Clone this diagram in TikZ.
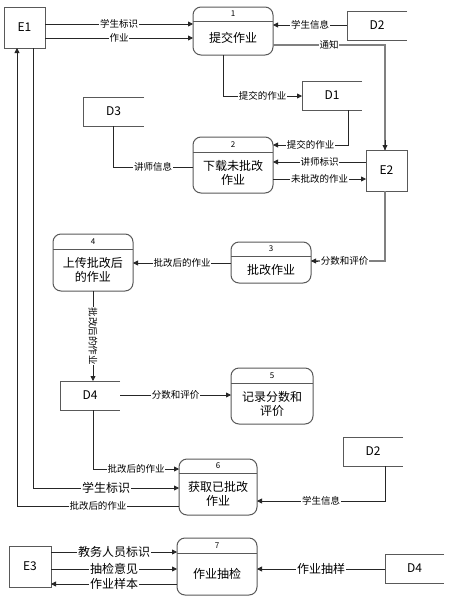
\documentclass[tikz,border=0pt]{standalone}
\usepackage{fontspec}
\setmainfont{Noto Sans CJK SC}
\usetikzlibrary{arrows.meta}
\tikzset{
  boxline/.style={draw=black!65, line width=1pt},
  entbox/.style={boxline, inner sep=0pt, outer sep=0pt, font=\fontsize{12}{14}\selectfont},
  procbox/.style={boxline, rounded corners=8pt, inner sep=0pt, outer sep=0pt},
  procline/.style={draw=black!65, line width=0.8pt},
  numtxt/.style={font=\fontsize{8}{9}\selectfont, inner sep=0pt},
  proctxt/.style={font=\fontsize{12}{14}\selectfont, align=center, inner sep=0pt},
  storebox/.style={inner sep=0pt, outer sep=0pt, font=\fontsize{12}{14}\selectfont},
  conn/.style={draw=black!85, line width=0.8pt},
  arr/.style={conn, -{Triangle[length=5pt,width=5pt]}},
  grayconn/.style={draw=black!50, line width=1.3pt},
  lab/.style={fill=white, inner sep=0.8pt, font=\fontsize{9.5}{10}\selectfont},
  biglab/.style={fill=white, inner sep=0.8pt, font=\fontsize{12}{13}\selectfont},
}
\newcommand\mkproc[8]{%
  \node[procbox, anchor=north west, minimum width={#4-#2}, minimum height={#5-#3}] (#1) at (#2,#3) {};
  \draw[procline] (#1.west |- 0,#6) -- (#1.east |- 0,#6);
  \node[numtxt] (#1n) at ({(#2+#4)/2},{(#3+#6)/2}) {#7};
  \node[proctxt] (#1t) at ({(#2+#4)/2},{(#6+#5)/2}) {#8};
}
\newcommand\mkstore[6]{%
  \node[storebox, anchor=north west, minimum width={#4-#2}, minimum height={#5-#3}] (#1) at (#2,#3) {#6};
  \draw[boxline] (#1.north east) -- (#1.north west) -- (#1.south west) -- (#1.south east);
}
\newcommand\mkent[6]{%
  \node[entbox, anchor=north west, minimum width={#4-#2}, minimum height={#5-#3}] (#1) at (#2,#3) {#6};
}
\begin{document}
\begin{tikzpicture}[x=1pt,y=-1pt]
\useasboundingbox[fill=white] (0,0) rectangle (448,598);
% entities
\mkent{E1}{4}{7}{45}{48}{E1}
\mkent{E2}{366}{150}{407}{191}{E2}
\mkent{E3}{9}{546}{51}{587}{E3}
% stores
\mkstore{D2}{347}{11}{407}{40}{D2}
\mkstore{D1}{302}{81}{362}{110}{D1}
\mkstore{D3}{83}{97}{144}{126}{D3}
\mkstore{D4}{60}{381}{120}{410}{D4}
\mkstore{D2b}{343}{437}{403}{466}{D2}
\mkstore{D4b}{385}{554}{444}{583}{D4}
% processes
\mkproc{P1}{193}{7}{273}{55}{21}{1}{提交作业}
\mkproc{P2}{193}{137}{273}{193}{152}{2}{下载未批改\\作业}
\mkproc{P3}{231}{242}{311}{283}{256}{3}{批改作业}
\mkproc{P4}{53}{234}{133}{291}{249}{4}{上传批改后\\的作业}
\mkproc{P5}{231}{368}{313}{424}{383}{5}{记录分数和\\评价}
\mkproc{P6}{179}{459}{257}{515}{473}{6}{获取已批改\\作业}
\mkproc{P7}{177}{538}{257}{595}{553}{7}{作业抽检}
% connectors
\draw[arr] (E1.east |- 0,24) -- node[lab] {学生标识} (P1.west |- 0,24);
\draw[arr] (E1.east |- 0,38) -- node[lab] {作业} (P1.west |- 0,38);
\draw[arr] (D2.west |- 0,25) -- node[lab] {学生信息} (P1.east |- 0,25);
\draw[grayconn] (P1.east |- 0,45) -- (385,45) -- (E2.north -| 385,0);
\draw[arr] (385,140) -- (E2.north -| 385,0);
\node[lab] (tz) at (329,45) {通知};
\draw[arr] (P1.south -| 223,0) -- (223,96) -- node[lab] {提交的作业} (D1.west |- 0,96);
\draw[arr] (D1.south -| 348,0) -- (348,145) -- node[lab] {提交的作业} (P2.east |- 0,145);
\draw[conn] (D3.south -| 113,0) -- (113,167) -- node[lab] {讲师信息} (P2.west |- 0,167);
\draw[arr] (E2.west |- 0,162) -- node[lab] {讲师标识} (P2.east |- 0,162);
\draw[arr] (P2.east |- 0,179) -- node[lab] {未批改的作业} (E2.west |- 0,179);
\draw[grayconn] (E2.south -| 385,0) -- (385,261) -- (P3.east |- 0,261);
\draw[arr] (318,261) -- node[lab, pos=-3.8] {分数和评价} (P3.east |- 0,261);
\draw[arr] (P3.west |- 0,263) -- node[lab] {批改后的作业} (P4.east |- 0,263);
\draw[arr] (P4.south -| 93,0) -- node[lab, rotate=-90] {批改后的作业} (D4.north -| 93,0);
\draw[arr] (D4.east |- 0,395) -- node[lab] {分数和评价} (P5.west |- 0,395);
\draw[arr] (D4.south -| 93,0) -- (93,469) -- node[lab] {批改后的作业} (P6.west |- 0,469);
\draw[arr] (E1.south -| 33,0) -- (33,488) -- node[biglab] {学生标识} (P6.west |- 0,488);
\draw[arr] (P6.west |- 0,506) -- node[lab] {批改后的作业} (17,506) -- (E1.south -| 17,0);
\draw[arr] (D2b.south -| 385,0) -- (385,501) -- node[lab] {学生信息} (P6.east |- 0,501);
\draw[arr] (E3.east |- 0,552) -- node[biglab] {教务人员标识} (P7.west |- 0,552);
\draw[arr] (E3.east |- 0,569) -- node[biglab] {抽检意见} (P7.west |- 0,569);
\draw[arr] (P7.west |- 0,584) -- node[biglab] {作业样本} (E3.east |- 0,584);
\draw[arr] (D4b.west |- 0,569) -- node[biglab] {作业抽样} (P7.east |- 0,569);
\end{tikzpicture}
\end{document}
